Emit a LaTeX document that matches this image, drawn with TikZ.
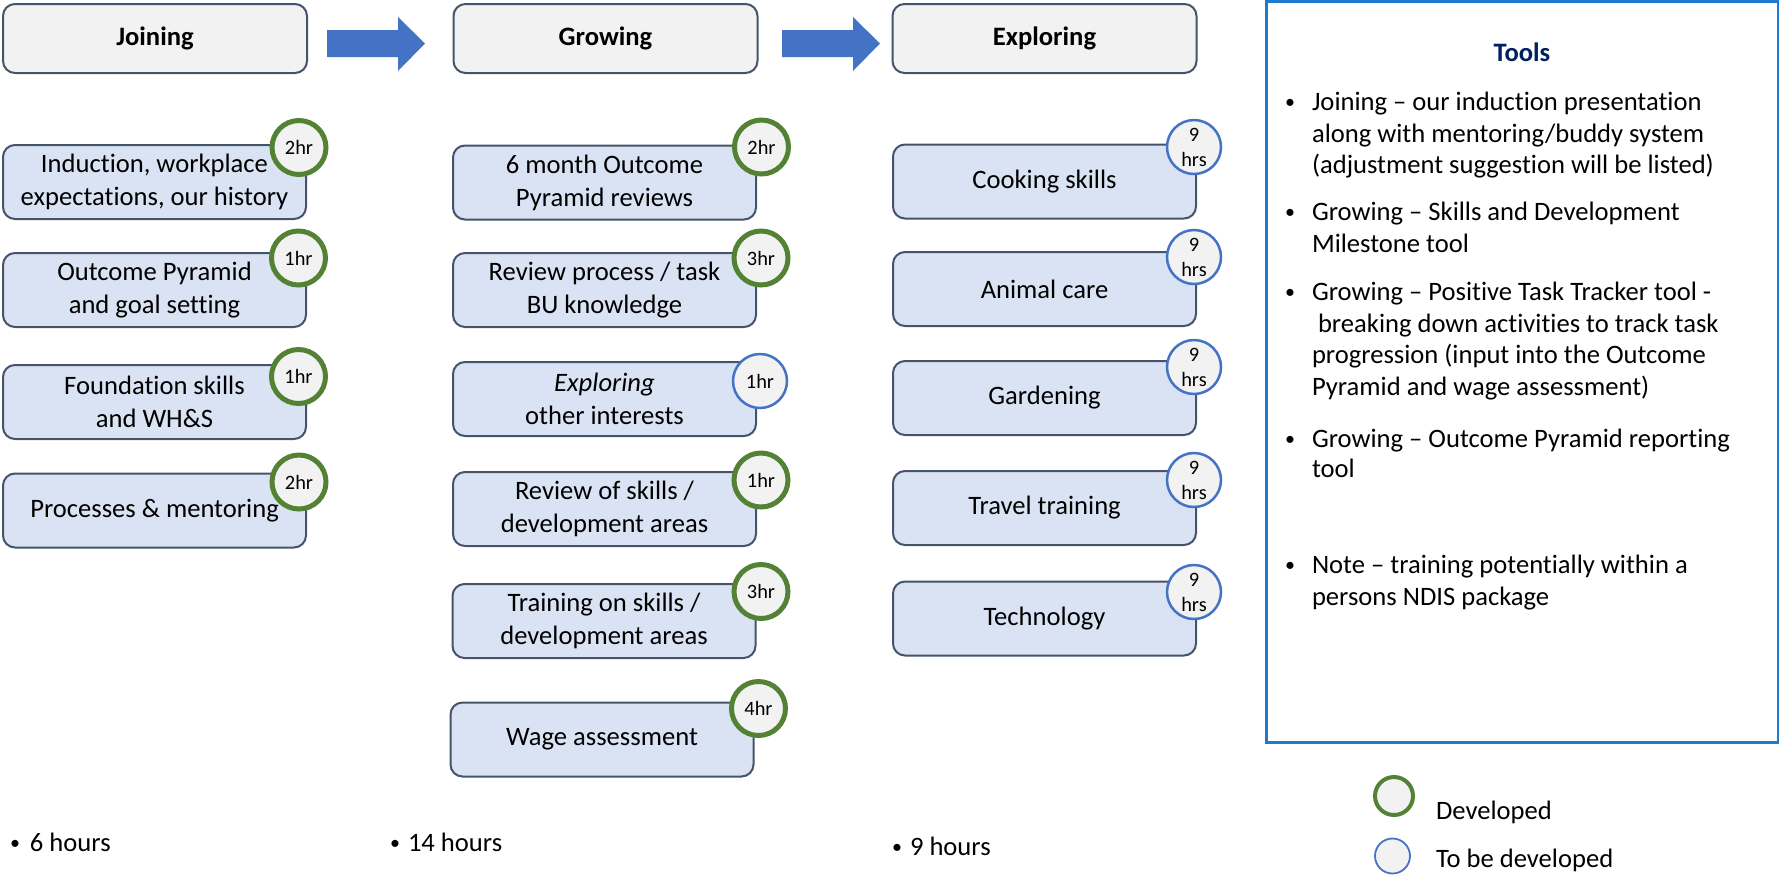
\documentclass[tikz,border=0pt]{standalone}
\usepackage{fontspec}
\setmainfont{Carlito}[Ligatures=NoCommon]
\definecolor{boxfill}{RGB}{218,227,243}
\definecolor{boxline}{RGB}{68,84,106}
\definecolor{headfill}{RGB}{242,242,242}
\definecolor{flowblue}{RGB}{68,114,196}
\definecolor{devgreen}{RGB}{84,130,53}
\definecolor{toolline}{RGB}{31,123,208}
\definecolor{toolhead}{RGB}{0,32,96}
\newcommand\diabody{\fontsize{13.3pt}{15.85pt}\selectfont}
\newcommand\diabox{\fontsize{13.3pt}{16.5pt}\selectfont}
\newcommand\diasmall{\fontsize{10.2pt}{12.5pt}\selectfont}
\newcommand\diadot{\fontsize{10pt}{12pt}\selectfont}
\begin{document}
\begin{tikzpicture}[x=0.5pt,y=-0.5pt,
  every node/.style={inner sep=0pt,outer sep=0pt},
  stage/.style={draw=boxline,line width=1pt,fill=headfill,rounded corners=6pt,
    minimum width=152pt,minimum height=34.5pt,font=\diabody\bfseries},
  task/.style={draw=boxline,line width=1pt,fill=boxfill,rounded corners=6pt,
    minimum width=151.5pt,minimum height=37pt,align=center,font=\diabox},
  done/.style={circle,draw=devgreen,line width=2.5pt,fill=headfill,
    minimum size=27pt,font=\diasmall},
  todo/.style={circle,draw=flowblue,line width=1.25pt,fill=headfill,
    minimum size=27pt,font=\diasmall,align=center},
  line/.style={anchor=base west,font=\diabody},
  dot/.style={anchor=base,font=\diadot}]
\useasboundingbox (0,0) rectangle (1779,875);

% stage headers
\node[stage] (hJ) at (155,38.5) {Joining};
\node[stage] (hG) at (605.5,38.5) {Growing};
\node[stage] (hE) at (1044.5,38.5) {Exploring};

% block arrows between stages
\fill[flowblue] (327,30) -- (398,30) -- (398,17) -- (425,43.5) -- (398,71) -- (398,57) -- (327,57) -- cycle;
\fill[flowblue] (782,30) -- (853,30) -- (853,17) -- (880,43.5) -- (853,71) -- (853,57) -- (782,57) -- cycle;

% Joining
\node[task] (j1) at (154.5,182) {Induction, workplace\\expectations, our history};
\node[task] (j2) at (154.5,290) {Outcome Pyramid\\and goal setting};
\node[task] (j3) at (154.5,402) {Foundation skills\\and WH\&S};
\node[task] (j4) at (154.5,510.5) {Processes \& mentoring};
\node[done] (cj1) at (299,147.5) {2hr};
\node[done] (cj2) at (298.5,258) {1hr};
\node[done] (cj3) at (298.5,376.5) {1hr};
\node[done] (cj4) at (299,482) {2hr};

% Growing
\node[task] (g1) at (604.5,182.5) {6 month Outcome\\Pyramid reviews};
\node[task] (g2) at (604.5,290) {Review process / task\\BU knowledge};
\node[task] (g3) at (604.5,399) {\textit{Exploring}\\other interests};
\node[task] (g4) at (604.5,509) {Review of skills /\\development areas};
\node[task] (g5) at (604,621) {Training on skills /\\development areas};
\node[task] (g6) at (602,739.5) {Wage assessment};
\node[done] (cg1) at (761.5,147) {2hr};
\node[done] (cg2) at (761,258) {3hr};
\node[todo] (cg3) at (760,381) {1hr};
\node[done] (cg4) at (761,480) {1hr};
\node[done] (cg5) at (761,591.5) {3hr};
\node[done] (cg6) at (758.5,708.5) {4hr};

% Exploring
\node[task] (e1) at (1044.5,181.5) {Cooking skills};
\node[task] (e2) at (1044.5,289) {Animal care};
\node[task] (e3) at (1044.5,398) {Gardening};
\node[task] (e4) at (1044.5,508) {Travel training};
\node[task] (e5) at (1044.5,618.5) {Technology};
\foreach \n/\y in {1/147,2/257,3/367,4/480,5/592}
  \node[todo] (ce\n) at (1194,\y) {9\\hrs};

% stage totals
\node[dot] (bj) at (15,849) {•};
\node[line] (tj) at (30,851) {6 hours};
\node[dot] (bg) at (395,849) {•};
\node[line] (tg) at (408,851) {14 hours};
\node[dot] (be) at (897,853) {•};
\node[line] (te) at (910,855) {9 hours};

% tools panel
\draw[toolline,line width=1.5pt] (1266,1) rectangle (1778,742);
\node[anchor=base,font=\diabody\bfseries,text=toolhead] (tt) at (1522,61) {Tools};
\node[dot] (b1) at (1290,108) {•};
\node[line] (l1) at (1312,110) {Joining – our induction presentation};
\node[line] (l2) at (1312,142) {along with mentoring/buddy system};
\node[line] (l3) at (1312,173) {(adjustment suggestion will be listed)};
\node[dot] (b2) at (1290,218) {•};
\node[line] (l4) at (1312,220) {Growing – Skills and Development};
\node[line] (l5) at (1312,252) {Milestone tool};
\node[dot] (b3) at (1290,298) {•};
\node[line] (l6) at (1312,300) {Growing – Positive Task Tracker tool -};
\node[line] (l7) at (1318,332) {breaking down activities to track task};
\node[line] (l8) at (1312,363) {progression (input into the Outcome};
\node[line] (l9) at (1312,395) {Pyramid and wage assessment)};
\node[dot] (b4) at (1290,445) {•};
\node[line] (l10) at (1312,447) {Growing – Outcome Pyramid reporting};
\node[line] (l11) at (1312,477) {tool};
\node[dot] (b5) at (1290,571) {•};
\node[line] (l12) at (1312,573) {Note – training potentially within a};
\node[line] (l13) at (1312,605) {persons NDIS package};

% legend
\node[circle,draw=devgreen,line width=2pt,fill=headfill,minimum size=19pt] (kg) at (1394,796) {};
\node[line] (kgt) at (1436,819) {Developed};
\node[circle,draw=flowblue,line width=0.9pt,fill=headfill,minimum size=17.5pt] (kb) at (1392.5,856) {};
\node[line] (kbt) at (1436,867) {To be developed};
\end{tikzpicture}
\end{document}
